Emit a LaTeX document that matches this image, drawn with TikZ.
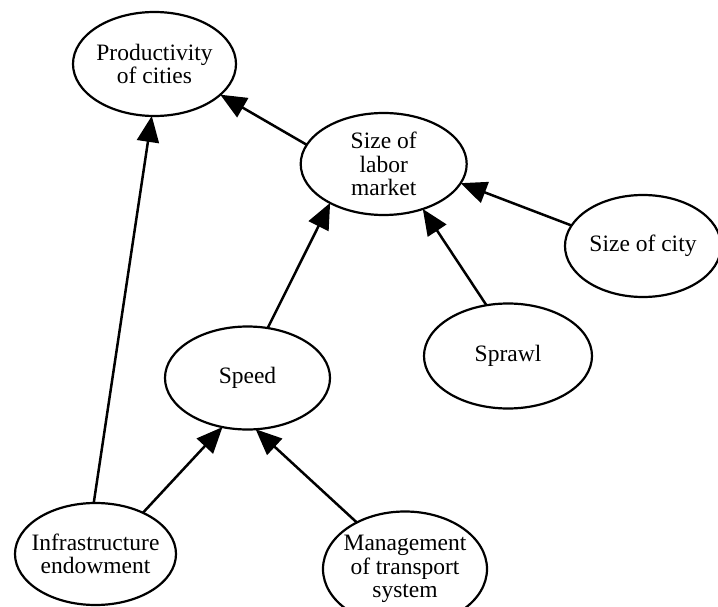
\documentclass[tikz,border=0pt]{standalone}
\usepackage{fontspec}
\setmainfont{Liberation Serif}
\usetikzlibrary{shapes.geometric,arrows.meta}
\begin{document}
\begin{tikzpicture}[x=1pt,y=-1pt,
  bub/.style={ellipse, draw, line width=2.2pt, inner sep=0pt, outer sep=0pt},
  txt/.style={align=center, font=\fontsize{23.5}{23.6}\selectfont, inner sep=0pt},
  arr/.style={line width=2.5pt, -{Triangle[length=26pt,width=22pt]}}]
\useasboundingbox (0,0) rectangle (718,607);
\clip (0,0) rectangle (718,607);
\node[bub, minimum width=163pt, minimum height=104pt,
  label={[txt]center:{Productivity\\of cities}}] (prod) at (154.5,64) {};
\node[bub, minimum width=166pt, minimum height=102pt,
  label={[txt]center:{Size of\\labor\\market}}] (labor) at (383.7,164) {};
\node[bub, minimum width=156pt, minimum height=102pt,
  label={[txt]center:{Size of city}}] (city) at (643,246) {};
\node[bub, minimum width=168pt, minimum height=105pt,
  label={[txt]center:{Sprawl}}] (sprawl) at (508,356) {};
\node[bub, minimum width=165pt, minimum height=103pt,
  label={[txt]center:{Speed}}] (speed) at (247.5,378) {};
\node[bub, minimum width=161pt, minimum height=102pt,
  label={[txt]center:{Infrastructure\\endowment}}] (infra) at (95.5,554) {};
\node[bub, minimum width=164pt, minimum height=115pt,
  label={[txt]center:{Management\\of transport\\system}}] (mgmt) at (405,569) {};
\draw[arr] (labor.166) -- (prod.-25);
\draw[arr] (infra.92.5) -- (prod.-93);
\draw[arr] (city.164) -- (labor.-14);
\draw[arr] (sprawl.113) -- (labor.-49);
\draw[arr] (speed.68) -- (labor.-144);
\draw[arr] (infra.41.5) -- (speed.-117);
\draw[arr] (mgmt.136.5) -- (speed.-81);
\end{tikzpicture}
\end{document}
